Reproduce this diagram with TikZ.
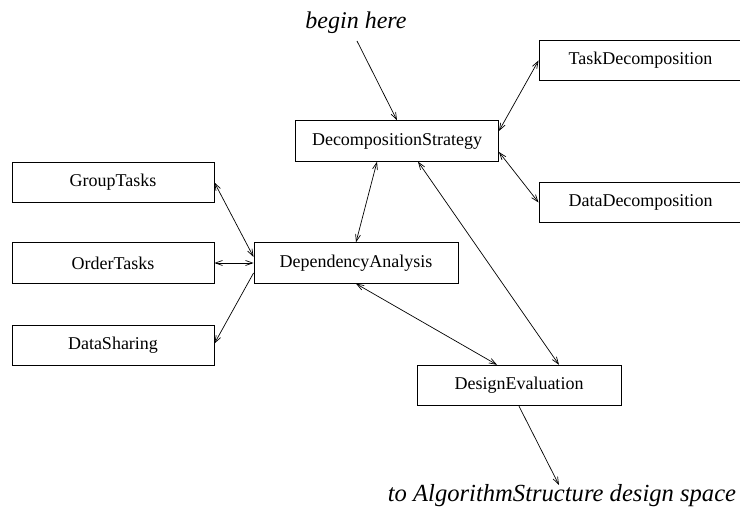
\documentclass[tikz,border=0pt]{standalone}
\usepackage{fontspec}
\setmainfont{Liberation Serif}
\usetikzlibrary{arrows.meta}
\begin{document}
\begin{tikzpicture}[x=1pt,y=-1pt,
  box/.style={draw,line width=0.9pt,inner sep=0pt,minimum height=40.5pt,minimum width=203pt,font=\fontsize{18}{20}\selectfont},
  conn/.style={line width=0.7pt,arrows={-Straight Barb[length=7pt,width=5pt]}},
  bconn/.style={line width=0.7pt,arrows={Straight Barb[length=7pt,width=5pt]-Straight Barb[length=7pt,width=5pt]}},
  lbl/.style={font=\fontsize{24}{26}\selectfont\itshape,inner sep=0pt}]
\useasboundingbox (0,0) rectangle (740,510);
\node[box] (DS) at (397,141) {DecompositionStrategy};
\node[box] (TD) at (640.5,60.5) {TaskDecomposition};
\node[box] (DD) at (640.5,202.5) {DataDecomposition};
\node[box,minimum width=202pt,minimum height=39.5pt] (GT) at (113,182.5) {GroupTasks};
\node[box,minimum width=202pt] (OT) at (113,263) {OrderTasks};
\node[box,minimum width=202pt,minimum height=39.5pt] (DSh) at (113,345.5) {DataSharing};
\node[box,minimum width=204pt] (DA) at (356,263) {DependencyAnalysis};
\node[box,minimum width=204pt] (DE) at (519,385.5) {DesignEvaluation};
\node[lbl,anchor=base] (BH) at (356,29) {begin here};
\node[lbl,anchor=base,font=\fontsize{24.6}{26}\selectfont\itshape] (TO) at (562,502) {to AlgorithmStructure design space};
\coordinate (bs) at (357,41);
\coordinate (te) at (559,485);
\draw[conn] (bs) -- (DS.north);
\draw[bconn] ([yshift=10pt]DS.east) -- (TD.west);
\draw[bconn] ([yshift=-11pt]DS.east) -- (DD.west);
\draw[bconn] ([xshift=-20pt]DS.south) -- (DA.north);
\draw[bconn] ([xshift=21pt]DS.south) -- ([xshift=40pt]DE.north);
\draw[bconn] (GT.east) -- ([yshift=6pt]DA.west);
\draw[bconn] (OT.east) -- (DA.west);
\draw[conn] ([yshift=-10pt]DA.west) -- ([yshift=2pt]DSh.east);
\draw[bconn] (DA.south) -- ([xshift=-22pt]DE.north);
\draw[conn] (DE.south) -- (te);
\end{tikzpicture}
\end{document}
